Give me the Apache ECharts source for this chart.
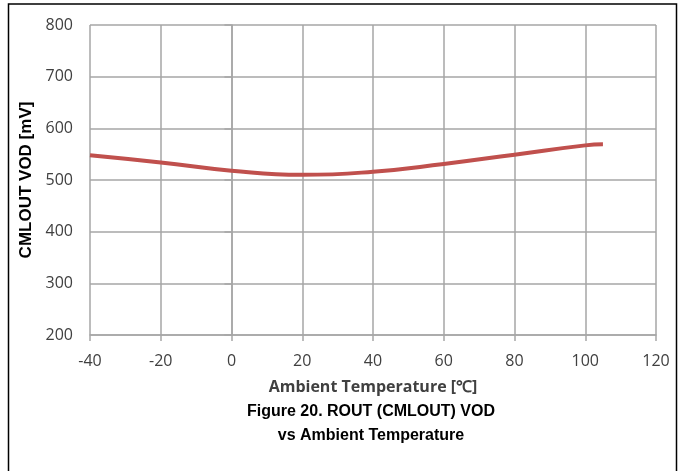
<!DOCTYPE html>
<html>
<head>
<meta charset="utf-8">
<script src="https://cdn.jsdelivr.net/npm/echarts@6/dist/echarts.min.js"></script>
<style>
html,body{margin:0;padding:0;background:#fff;}
#c{width:684px;height:471px;}
</style>
</head>
<body>
<div id="c"></div>
<script>
const temperatures = [-40, -20, 0, 20, 40, 60, 80, 100, 105];
const vodValues = [548, 534, 518, 510, 516, 531, 549, 567, 569];
const xTicks = [-40, -20, 0, 20, 40, 60, 80, 100, 120];
const yTicks = [200, 300, 400, 500, 600, 700, 800];
const xAxisName = 'Ambient Temperature [\u2103]';
const yAxisName = 'CMLOUT VOD [mV]';
const figureTitle = 'Figure 20. ROUT (CMLOUT) VOD\nvs Ambient Temperature';

const chart = echarts.init(document.getElementById('c'), null, {renderer: 'canvas'});
chart.setOption({
  animation: false,
  backgroundColor: '#fff',
  title: {
    text: figureTitle,
    left: 366, top: 395, textAlign: 'center',
    textStyle: {fontFamily: 'Liberation Sans, Arial', fontWeight: 'bold', fontSize: 16, lineHeight: 24, color: '#000'}
  },
  graphic: [{
    type: 'rect', silent: true,
    shape: {x: 8.5, y: 4, width: 668, height: 500},
    style: {fill: 'none', stroke: '#000', lineWidth: 1.5}
  }],
  grid: {left: 90, right: 28, top: 25, bottom: 136},
  xAxis: {
    type: 'value', min: xTicks[0], max: xTicks[xTicks.length - 1], interval: 20,
    name: xAxisName, nameLocation: 'middle', nameGap: 44,
    nameTextStyle: {fontFamily: 'Open Sans', fontWeight: 'bold', fontSize: 16, color: '#404040'},
    axisLine: {show: true, lineStyle: {color: '#a6a6a6', width: 1.5}},
    axisTick: {show: true, length: 6, lineStyle: {color: '#a6a6a6', width: 1.5}},
    axisLabel: {margin: 18, fontFamily: 'Open Sans', fontSize: 16, color: '#404040'},
    splitLine: {show: true, lineStyle: {color: '#a6a6a6', width: 1.5}}
  },
  yAxis: {
    type: 'value', min: yTicks[0], max: yTicks[yTicks.length - 1], interval: 100,
    name: yAxisName, nameLocation: 'middle', nameGap: 55, nameRotate: 90,
    nameTextStyle: {fontFamily: 'Liberation Sans, Arial', fontWeight: 'bold', fontSize: 17, color: '#000'},
    axisLine: {show: true, lineStyle: {color: '#a6a6a6', width: 1.5}},
    axisTick: {show: true, length: 7, lineStyle: {color: '#a6a6a6', width: 1.5}},
    axisLabel: {margin: 17, fontFamily: 'Open Sans', fontSize: 16, color: '#404040'},
    splitLine: {show: true, lineStyle: {color: '#a6a6a6', width: 1.5}}
  },
  series: [{
    type: 'line', smooth: 0.5, showSymbol: false,
    data: temperatures.map((t, i) => [t, vodValues[i]]),
    lineStyle: {color: '#c0504d', width: 4},
    itemStyle: {color: '#c0504d'}
  }]
});
</script>
</body>
</html>
